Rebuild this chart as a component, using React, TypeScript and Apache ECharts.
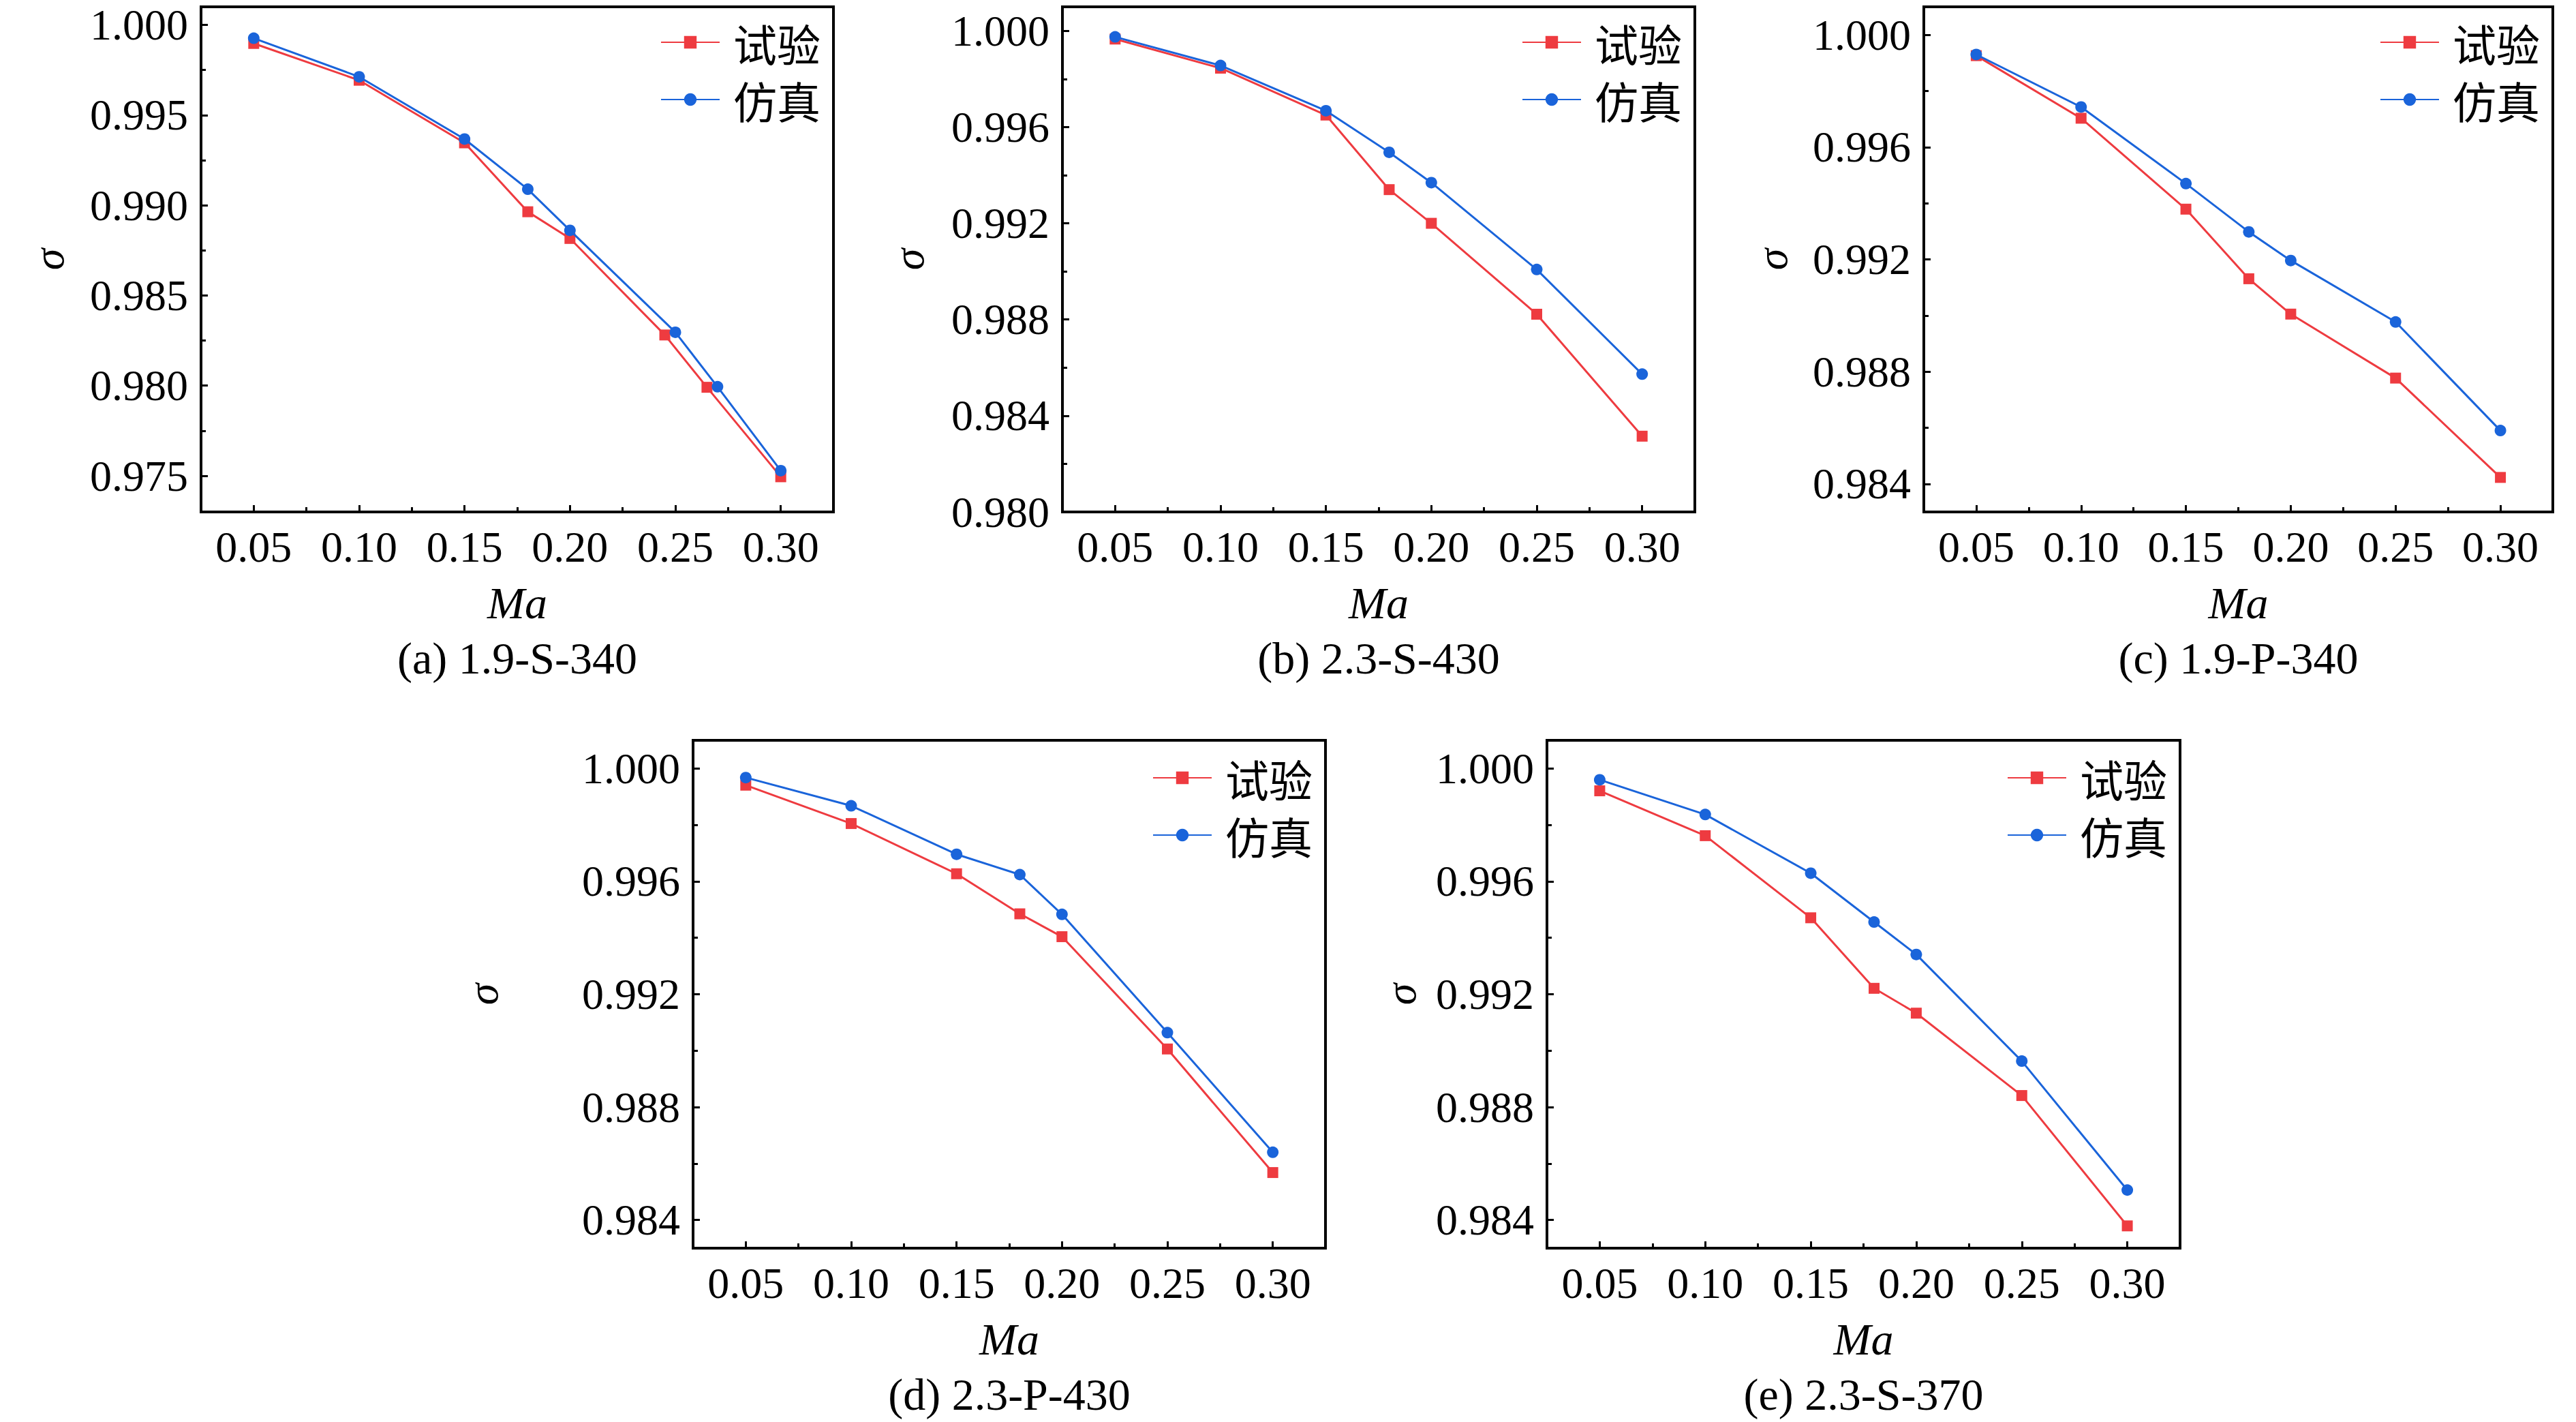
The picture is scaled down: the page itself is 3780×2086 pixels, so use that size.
import React, { useEffect, useRef } from "react";
import * as echarts from "echarts";

const W = 3780;
const H = 2086;

// ---- data: Mach number (x) and sigma (y) ----
const maA_exp = [0.05, 0.10, 0.15, 0.18, 0.20, 0.245, 0.265, 0.30];
const sigA_exp = [0.99897, 0.99693, 0.99346, 0.98964, 0.98816, 0.98281, 0.97991, 0.97495];
const maA_sim = [0.05, 0.10, 0.15, 0.18, 0.20, 0.25, 0.27, 0.30];
const sigA_sim = [0.99926, 0.99712, 0.99367, 0.99089, 0.98861, 0.98296, 0.97994, 0.97529];

const maStd = [0.05, 0.10, 0.15, 0.18, 0.20, 0.25, 0.30];

const sigB_exp = [0.99966, 0.99845, 0.9965, 0.9934, 0.992, 0.98822, 0.98315];
const sigB_sim = [0.99975, 0.99856, 0.99668, 0.99495, 0.99369, 0.99008, 0.98573];

const sigC_exp = [0.99926, 0.99703, 0.99379, 0.99131, 0.99005, 0.98777, 0.98423];
const sigC_sim = [0.9993, 0.99743, 0.9947, 0.99298, 0.99196, 0.98977, 0.9859];

const sigD_exp = [0.99941, 0.99805, 0.99627, 0.99485, 0.99404, 0.99006, 0.98568];
const sigD_sim = [0.99968, 0.99868, 0.99696, 0.99624, 0.99483, 0.99064, 0.9864];

const sigE_exp = [0.99921, 0.99762, 0.99471, 0.99221, 0.99133, 0.98841, 0.98379];
const sigE_sim = [0.9996, 0.99837, 0.99629, 0.99456, 0.99341, 0.98963, 0.98506];

// ---- ticks ----
const xTicks = [0.05, 0.10, 0.15, 0.20, 0.25, 0.30];
const xMinor = [0.075, 0.125, 0.175, 0.225, 0.275];
const yTicksA = [0.975, 0.98, 0.985, 0.99, 0.995, 1.0];
const yMinorA = [0.9775, 0.9825, 0.9875, 0.9925, 0.9975];
const yTicksB = [0.98, 0.984, 0.988, 0.992, 0.996, 1.0];
const yMinorB = [0.982, 0.986, 0.99, 0.994, 0.998];
const yTicksC = [0.984, 0.988, 0.992, 0.996, 1.0];
const yMinorC = [0.986, 0.99, 0.994, 0.998];

const seriesNames = ["试验", "仿真"];
const captions = ["(a) 1.9-S-340", "(b) 2.3-S-430", "(c) 1.9-P-340", "(d) 2.3-P-430", "(e) 2.3-S-370"];

const xRange = [0.025, 0.325];
const yRanges = [
  [0.973, 1.001],
  [0.98, 1.001],
  [0.983, 1.001],
  [0.983, 1.001],
  [0.983, 1.001],
];

const panelData = [
  { expX: maA_exp, expY: sigA_exp, simX: maA_sim, simY: sigA_sim, yMajor: yTicksA, yMinor: yMinorA },
  { expX: maStd, expY: sigB_exp, simX: maStd, simY: sigB_sim, yMajor: yTicksB, yMinor: yMinorB },
  { expX: maStd, expY: sigC_exp, simX: maStd, simY: sigC_sim, yMajor: yTicksC, yMinor: yMinorC },
  { expX: maStd, expY: sigD_exp, simX: maStd, simY: sigD_sim, yMajor: yTicksC, yMinor: yMinorC },
  { expX: maStd, expY: sigE_exp, simX: maStd, simY: sigE_sim, yMajor: yTicksC, yMinor: yMinorC },
];

// ---- layout (pixels) ----
const layout = [
  { left: 295, top: 10, width: 928, height: 741, nameGap: 192 },
  { left: 1559, top: 10, width: 928, height: 741, nameGap: 194 },
  { left: 2823, top: 10, width: 923, height: 741, nameGap: 191 },
  { left: 1017, top: 1086, width: 928, height: 745, nameGap: 277 },
  { left: 2270, top: 1086, width: 929, height: 745, nameGap: 183 },
];

const RED = "#EE3B40";
const BLUE = "#1A64DA";
const SERIF = "'Liberation Serif', 'Times New Roman', serif";
const CJK = "'Noto Sans CJK SC', sans-serif";

function zip(xs: number[], ys: number[]) {
  return xs.map((x, i) => [x, ys[i]]);
}

function buildOption() {
  const grid: any[] = [];
  const xAxis: any[] = [];
  const yAxis: any[] = [];
  const series: any[] = [];
  const legend: any[] = [];
  const graphic: any[] = [];

  layout.forEach((g, i) => {
    const d = panelData[i];
    grid.push({
      left: g.left,
      top: g.top,
      width: g.width,
      height: g.height,
      show: true,
      borderColor: "#000",
      borderWidth: 4,
      backgroundColor: "transparent",
      containLabel: false,
    });
    xAxis.push({
      type: "value",
      gridIndex: i,
      position: "bottom",
      min: xRange[0],
      max: xRange[1],
      name: "Ma",
      nameLocation: "middle",
      nameGap: 100,
      nameTextStyle: { fontFamily: SERIF, fontStyle: "italic", fontSize: 66, lineHeight: 66, color: "#000" },
      axisLine: { show: true, onZero: false, lineStyle: { color: "#000", width: 4 } },
      axisTick: { show: true, inside: true, length: 10, customValues: xTicks, lineStyle: { color: "#000", width: 3 } },
      axisLabel: {
        show: true,
        customValues: xTicks,
        margin: 21,
        fontFamily: SERIF,
        fontSize: 64,
        lineHeight: 60,
        color: "#000",
        formatter: (v: number) => v.toFixed(2),
      },
      splitLine: { show: false },
    });
    xAxis.push({
      type: "value",
      gridIndex: i,
      position: "bottom",
      min: xRange[0],
      max: xRange[1],
      axisLine: { show: false, onZero: false },
      axisTick: { show: true, inside: true, length: 7, customValues: xMinor, lineStyle: { color: "#000", width: 3 } },
      axisLabel: { show: false },
      splitLine: { show: false },
    });
    yAxis.push({
      type: "value",
      gridIndex: i,
      position: "left",
      min: yRanges[i][0],
      max: yRanges[i][1],
      name: "σ",
      nameLocation: "middle",
      nameGap: g.nameGap,
      nameTextStyle: { fontFamily: SERIF, fontStyle: "italic", fontSize: 64, lineHeight: 64, color: "#000" },
      axisLine: { show: true, onZero: false, lineStyle: { color: "#000", width: 4 } },
      axisTick: { show: true, inside: true, length: 10, customValues: d.yMajor, lineStyle: { color: "#000", width: 3 } },
      axisLabel: {
        show: true,
        customValues: d.yMajor,
        margin: 19,
        fontFamily: SERIF,
        fontSize: 64,
        lineHeight: 56,
        color: "#000",
        formatter: (v: number) => v.toFixed(3),
      },
      splitLine: { show: false },
    });
    yAxis.push({
      type: "value",
      gridIndex: i,
      position: "left",
      min: yRanges[i][0],
      max: yRanges[i][1],
      axisLine: { show: false, onZero: false },
      axisTick: { show: true, inside: true, length: 7, customValues: d.yMinor, lineStyle: { color: "#000", width: 3 } },
      axisLabel: { show: false },
      splitLine: { show: false },
    });

    series.push({
      type: "line",
      name: seriesNames[0],
      xAxisIndex: 2 * i,
      yAxisIndex: 2 * i,
      data: zip(d.expX, d.expY),
      symbol: "rect",
      symbolSize: 16,
      showAllSymbol: true,
      lineStyle: { color: RED, width: 3 },
      itemStyle: { color: RED },
      z: 3,
    });
    series.push({
      type: "line",
      name: seriesNames[1],
      xAxisIndex: 2 * i,
      yAxisIndex: 2 * i,
      data: zip(d.simX, d.simY),
      symbol: "circle",
      symbolSize: 17,
      showAllSymbol: true,
      lineStyle: { color: BLUE, width: 3 },
      itemStyle: { color: BLUE },
      z: 4,
    });

    legend.push({
      data: seriesNames,
      orient: "vertical",
      left: g.left + g.width - 254,
      top: g.top + (i < 3 ? 20 : 23),
      padding: 0,
      itemWidth: 86,
      itemHeight: 23,
      itemGap: 20,
      selectedMode: false,
      textStyle: { fontFamily: CJK, fontSize: 64, lineHeight: 60, color: "#000", padding: [0, 0, 0, 15] },
    });

    graphic.push({
      type: "text",
      x: g.left + g.width / 2,
      y: g.top + g.height + 214,
      style: {
        text: captions[i],
        fontFamily: SERIF,
        fontSize: 66,
        fill: "#000",
        align: "center",
        verticalAlign: "middle",
      },
    });
  });

  return {
    animation: false,
    backgroundColor: "#ffffff",
    grid,
    xAxis,
    yAxis,
    series,
    legend,
    graphic,
  };
}

export default function App() {
  const ref = useRef<HTMLDivElement>(null);
  useEffect(() => {
    document.body.style.margin = "0";
    document.body.style.overflow = "hidden";
    if (!ref.current) return;
    const chart = echarts.init(ref.current, undefined, { renderer: "svg", width: W, height: H });
    chart.setOption(buildOption() as any);
    return () => {
      chart.dispose();
    };
  }, []);
  return (
    <div
      ref={ref}
      style={{ position: "absolute", left: 0, top: 0, width: W, height: H, background: "#fff" }}
    />
  );
}
